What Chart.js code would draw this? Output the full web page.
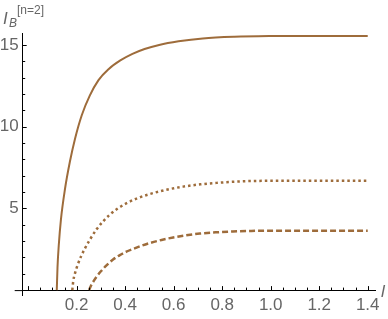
<!DOCTYPE html>
<html>
<head>
<meta charset="utf-8">
<script src="https://cdn.jsdelivr.net/npm/chart.js@4"></script>
<style>
	html, body { margin: 0; padding: 0; background: #fff; }
	#wrap { width: 388px; height: 319px; position: relative; }
</style>
</head>
<body>
<div id="wrap"><canvas id="myChart" width="388" height="319"></canvas></div>
<script>
// curve values
var xSolid = [0.118, 0.121, 0.126, 0.135, 0.152, 0.172, 0.193, 0.221, 0.254, 0.29, 0.33, 0.38, 0.43, 0.48, 0.54, 0.62, 0.72, 0.85, 1.0, 1.2, 1.4];
var ySolid = [0, 1.4, 2.7, 4.3, 6.2, 7.85, 9.25, 10.7, 11.9, 12.85, 13.5, 14.05, 14.45, 14.75, 15.0, 15.22, 15.4, 15.5, 15.54, 15.55, 15.55];

var xDotted = [0.182, 0.186, 0.193, 0.205, 0.22, 0.234, 0.255, 0.282, 0.31, 0.337, 0.37, 0.406, 0.45, 0.502, 0.57, 0.639, 0.71, 0.777, 0.85, 0.914, 1.05, 1.4];
var yDotted = [0, 0.56, 1.02, 1.58, 2.13, 2.55, 3.1, 3.72, 4.22, 4.62, 5.0, 5.32, 5.62, 5.88, 6.14, 6.33, 6.47, 6.56, 6.63, 6.67, 6.69, 6.69];

var xDashed = [0.251, 0.26, 0.27, 0.282, 0.3, 0.324, 0.35, 0.378, 0.405, 0.433, 0.465, 0.502, 0.55, 0.598, 0.65, 0.708, 0.78, 0.844, 0.92, 0.983, 1.2, 1.4];
var yDashed = [0, 0.3, 0.55, 0.81, 1.15, 1.53, 1.87, 2.14, 2.35, 2.52, 2.7, 2.88, 3.07, 3.22, 3.35, 3.46, 3.54, 3.59, 3.62, 3.63, 3.63, 3.63];

var xTickLabels = ['0.2', '0.4', '0.6', '0.8', '1.0', '1.2', '1.4'];
var yTickLabels = ['5', '10', '15'];

var corLinha = '#9e6c3b';
var corTexto = '#666666';

function pontos(xs, ys){
	var out = [];
	for (var i = 0; i < xs.length; i++) out.push({x: xs[i], y: ys[i]});
	return out;
}

// inward tick marks + axis labels, Mathematica style
var ticksPlugin = {
	id: 'ticksPlugin',
	afterDraw: function(chart){
		var ctx = chart.ctx;
		var xs = chart.scales.x, ys = chart.scales.y;
		var y0 = ys.getPixelForValue(0);
		var x0 = chart.chartArea.left;
		ctx.save();
		ctx.strokeStyle = '#000';
		ctx.lineWidth = 1;
		ctx.beginPath();
		// x axis a bit past the y axis on the left
		ctx.moveTo(x0 - 8, y0 + 0.5);
		ctx.lineTo(x0, y0 + 0.5);
		for (var i = 0; i <= 28; i++){
			var v = i * 0.05;
			var px = Math.round(xs.getPixelForValue(v)) + 0.5;
			var len = (i % 4 === 0) ? 4 : 2.5;
			ctx.moveTo(px, y0);
			ctx.lineTo(px, y0 - len);
		}
		for (var j = 1; j <= 15; j++){
			var py = Math.round(ys.getPixelForValue(j)) + 0.5;
			var l2 = (j % 5 === 0) ? 4 : 2.5;
			ctx.moveTo(x0, py);
			ctx.lineTo(x0 + l2, py);
		}
		ctx.stroke();

		ctx.fillStyle = corTexto;
		ctx.textBaseline = 'alphabetic';
		ctx.textAlign = 'left';
		ctx.font = 'italic 17px "Liberation Sans"';
		ctx.fillText('l', 381, 297);
		ctx.fillText('I', 3, 24);
		ctx.font = 'italic 12px "Liberation Sans"';
		ctx.fillText('B', 9, 27);
		ctx.font = '12px "Liberation Sans"';
		ctx.fillText('[n=2]', 17, 14);
		ctx.restore();
	}
};

function renderChart(){
	var ctx = document.getElementById('myChart').getContext('2d');
	var base = {
		showLine: true,
		pointRadius: 0,
		borderColor: corLinha,
		backgroundColor: corLinha,
		cubicInterpolationMode: 'monotone',
		fill: false
	};
	var myChart = new Chart(ctx, {
		type: 'scatter',
		data: {
			datasets: [
				Object.assign({}, base, {label: 'solid', data: pontos(xSolid, ySolid), borderWidth: 2}),
				Object.assign({}, base, {label: 'dotted', data: pontos(xDotted, yDotted), borderWidth: 2.5, borderDash: [2.5, 3]}),
				Object.assign({}, base, {label: 'dashed', data: pontos(xDashed, yDashed), borderWidth: 2.5, borderDash: [6, 3]})
			]
		},
		options: {
			responsive: false,
			animation: false,
			layout: { padding: { left: 0, right: 13, top: 33, bottom: 24 } },
			plugins: { legend: { display: false }, tooltip: { enabled: false } },
			scales: {
				x: {
					type: 'linear',
					position: { y: 0 },
					min: -0.0225,
					max: 1.43,
					grid: { display: false, drawTicks: false },
					border: { display: true, color: '#000', width: 1 },
					ticks: {
						stepSize: 0.2,
						includeBounds: false,
						autoSkip: false,
						maxRotation: 0,
						padding: 5,
						color: corTexto,
						font: { family: 'Liberation Sans', size: 17 },
						callback: function(v){
							var s = Number(v).toFixed(1);
							return xTickLabels.indexOf(s) >= 0 ? s : '';
						}
					}
				},
				y: {
					type: 'linear',
					position: 'left',
					min: -0.3,
					max: 15.73,
					afterFit: function(scale){ scale.width = 22.7; },
					grid: { display: false, drawTicks: false },
					border: { display: true, color: '#000', width: 1 },
					ticks: {
						stepSize: 5,
						includeBounds: false,
						autoSkip: false,
						padding: 4,
						color: corTexto,
						font: { family: 'Liberation Sans', size: 17 },
						callback: function(v){
							var s = String(Math.round(v));
							return yTickLabels.indexOf(s) >= 0 ? s : '';
						}
					}
				}
			}
		},
		plugins: [ticksPlugin]
	});
}

renderChart();
</script>
</body>
</html>
